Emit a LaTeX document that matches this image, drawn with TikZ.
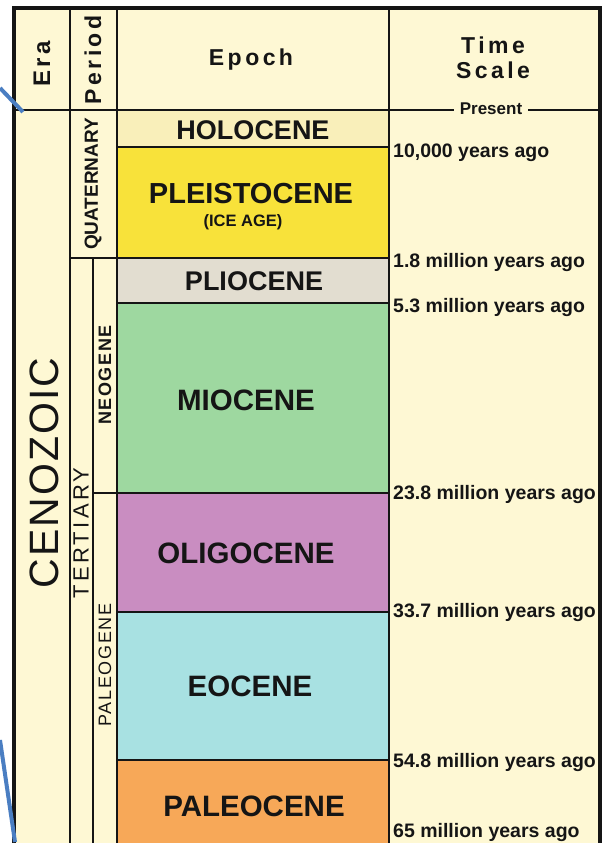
\documentclass[tikz,border=0pt]{standalone}
\usepackage{fontspec}
\setmainfont{Liberation Sans}
\newfontfamily\spcfont[LetterSpace=15]{Liberation Sans}
\newfontfamily\midspc[LetterSpace=9]{Liberation Sans}
\newfontfamily\cenofont[LetterSpace=5]{Liberation Sans}
\definecolor{cream}{HTML}{FEF8D4}
\definecolor{holo}{HTML}{F9EFBA}
\definecolor{pleis}{HTML}{F8E23A}
\definecolor{plio}{HTML}{E2DDD0}
\definecolor{mio}{HTML}{9ED8A0}
\definecolor{oligo}{HTML}{C98DC1}
\definecolor{eo}{HTML}{A8E1E2}
\definecolor{paleo}{HTML}{F7A858}
\definecolor{ink}{HTML}{151515}
\definecolor{pen}{HTML}{4A7EC2}
\tikzset{
  rule/.style={draw=ink, line width=2.8pt},
  frame/.style={draw=ink, line width=3.4pt},
  epochlbl/.style={inner sep=0pt, text=ink, font=\bfseries\fontsize{29.5}{30}\selectfont},
  smallepoch/.style={inner sep=0pt, text=ink, font=\bfseries\fontsize{27}{27}\selectfont},
  timelbl/.style={inner sep=0pt, anchor=base west, text=ink, font=\bfseries\fontsize{19.5}{19.5}\selectfont},
  headlbl/.style={inner sep=0pt, text=ink, font=\spcfont\bfseries\fontsize{23}{23}\selectfont},
  perlbl/.style={inner sep=0pt, text=ink, rotate=90},
  penline/.style={draw=pen, line width=4pt}
}
\begin{document}
\begin{tikzpicture}[x=1pt,y=-1pt]
\useasboundingbox (0,0) rectangle (604,843);
% background and epoch fills
\fill[cream] (14,8) rectangle (600,843);
\fill[holo] (117,110) rectangle (389,147);
\fill[pleis] (117,147) rectangle (389,258);
\fill[plio] (117,258) rectangle (389,303);
\fill[mio] (117,303) rectangle (389,493);
\fill[oligo] (117,493) rectangle (389,612);
\fill[eo] (117,612) rectangle (389,760);
\fill[paleo] (117,760) rectangle (389,843);
% grid lines
\draw[rule] (70,8) -- (70,843);
\draw[rule] (117,8) -- (117,843);
\draw[rule] (389,8) -- (389,843);
\draw[rule] (93,258) -- (93,843);
\draw[rule] (14,110) -- (600,110);
\draw[rule] (117,147) -- (389,147);
\draw[rule] (70,258) -- (389,258);
\draw[rule] (117,303) -- (389,303);
\draw[rule] (93,493) -- (389,493);
\draw[rule] (117,612) -- (389,612);
\draw[rule] (117,760) -- (389,760);
\draw[frame] (14,843) -- (14,8) -- (600,8) -- (600,843);
% headers
\node[headlbl, rotate=90, font=\spcfont\bfseries\fontsize{24}{24}\selectfont] (era) at (42,64) {Era};
\node[headlbl, rotate=90, font=\spcfont\bfseries\fontsize{23}{23}\selectfont] (period) at (93,60) {Period};
\node[headlbl] (epoch) at (251,60) {Epoch};
\node[headlbl] (time) at (493,45) {Time};
\node[headlbl] (scale) at (493,70) {Scale};
\node[fill=cream, inner xsep=6pt, inner ysep=1pt, text=ink, font=\bfseries\fontsize{17}{17}\selectfont] (present) at (491,109) {Present};
% era / period labels
\node[perlbl, font=\cenofont\fontsize{41}{41}\selectfont] (ceno) at (44,473) {CENOZOIC};
\node[perlbl, font=\bfseries\fontsize{19}{19}\selectfont] (quat) at (93,184) {QUATERNARY};
\node[perlbl, font=\spcfont\fontsize{22}{22}\selectfont] (tert) at (81,533) {TERTIARY};
\node[perlbl, font=\midspc\bfseries\fontsize{18}{18}\selectfont] (neo) at (105,375) {NEOGENE};
\node[perlbl, font=\midspc\fontsize{18}{18}\selectfont] (paleog) at (105,665) {PALEOGENE};
% epochs
\node[smallepoch] (holocene) at (253,130) {HOLOCENE};
\node[epochlbl, font=\bfseries\fontsize{29}{29}\selectfont] (pleistocene) at (251,194) {PLEISTOCENE};
\node[inner sep=0pt, text=ink, font=\bfseries\fontsize{16.5}{17}\selectfont] (iceage) at (243,222) {(ICE AGE)};
\node[smallepoch] (pliocene) at (254,281) {PLIOCENE};
\node[epochlbl] (miocene) at (246,400) {MIOCENE};
\node[epochlbl] (oligocene) at (246,553) {OLIGOCENE};
\node[epochlbl] (eocene) at (250,686) {EOCENE};
\node[epochlbl] (paleocene) at (254,806) {PALEOCENE};
% time scale
\node[timelbl] (t1) at (393,157) {10,000 years ago};
\node[timelbl] (t2) at (393,267) {1.8 million years ago};
\node[timelbl] (t3) at (393,312) {5.3 million years ago};
\node[timelbl] (t4) at (393,499) {23.8 million years ago};
\node[timelbl] (t5) at (393,617) {33.7 million years ago};
\node[timelbl] (t6) at (393,767) {54.8 million years ago};
\node[timelbl] (t7) at (393,837) {65 million years ago};
% blue pen strokes
\coordinate (p1a) at (0,88);
\coordinate (p1b) at (23,112);
\coordinate (p2a) at (0,740);
\coordinate (p2b) at (15,842);
\draw[penline] (p1a) -- (p1b);
\draw[penline] (p2a) -- (p2b);
\end{tikzpicture}
\end{document}
